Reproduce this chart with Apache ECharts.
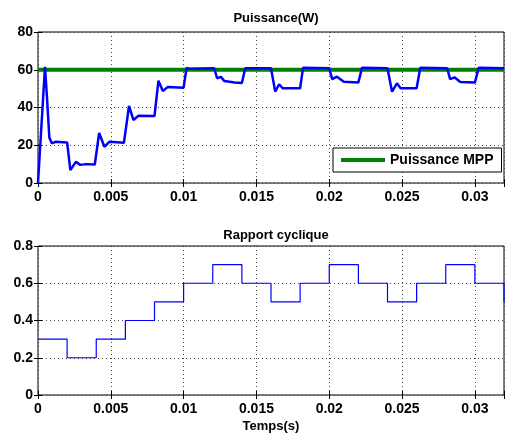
<!DOCTYPE html>
<html>
<head>
<meta charset="utf-8">
<script src="https://cdn.jsdelivr.net/npm/echarts@6/dist/echarts.min.js"></script>
<style>
  html, body { margin: 0; padding: 0; background: #fff; }
  #chart { width: 507px; height: 434px; }
</style>
</head>
<body>
<div id="chart"></div>
<script>
// puissance (W)
var powerTime = [0, 0.00048, 0.00062, 0.00078, 0.00095, 0.0012, 0.002, 0.00222, 0.0026, 0.0029, 0.0033, 0.0039,
  0.0042, 0.00456, 0.0049, 0.0059, 0.00625, 0.00655, 0.0069, 0.008, 0.00827, 0.00857, 0.0089, 0.01,
  0.0102, 0.0104, 0.0121, 0.0123, 0.01256, 0.0128, 0.0135, 0.014, 0.01423, 0.016, 0.01629, 0.01656,
  0.0168, 0.018, 0.0182, 0.02, 0.0202, 0.02053, 0.021, 0.022, 0.02225, 0.024, 0.02431, 0.02465,
  0.0249, 0.026, 0.02625, 0.0281, 0.0283, 0.0286, 0.029, 0.03, 0.03026, 0.032];
var powerValue = [0, 61.5, 45, 24, 21, 21.8, 21.5, 6.8, 11.2, 9.6, 10, 9.8,
  26.5, 19.2, 21.8, 21.3, 40.8, 33.4, 35.6, 35.5, 54.2, 48.7, 50.8, 50.5,
  61, 60.5, 60.8, 55.5, 56.2, 54, 53.2, 53, 60.8, 60.8, 48.4, 52.3,
  50.2, 50.2, 61, 60.8, 55, 56.3, 53.6, 53.3, 61, 60.8, 48.4, 52.8,
  50.2, 50.2, 61, 60.8, 55, 56, 53.5, 53.2, 61, 60.8];
var mppValue = 60;

// rapport cyclique
var dutyTime = [0, 0.002, 0.004, 0.006, 0.008, 0.01, 0.012, 0.014, 0.016, 0.018, 0.02, 0.022, 0.024, 0.026, 0.028, 0.03, 0.032];
var dutyValue = [0.3, 0.2, 0.3, 0.4, 0.5, 0.6, 0.7, 0.6, 0.5, 0.6, 0.7, 0.6, 0.5, 0.6, 0.7, 0.6, 0.5];

var xTicks = [0, 0.005, 0.01, 0.015, 0.02, 0.025, 0.03];

var font = 'Liberation Sans, Arial, sans-serif';

function zip(a, b) {
  return a.map(function (v, i) { return [v, b[i]]; });
}

function xLabel(v) {
  if (v > 0.0305) return '';
  return String(parseFloat(v.toFixed(4)));
}

function makeX(gridIndex, pos, withLabel) {
  return {
    type: 'value', gridIndex: gridIndex, position: pos,
    min: 0, max: 0.032, interval: 0.005,
    axisLine: { show: false },
    axisTick: { show: true, inside: true, length: 4, lineStyle: { color: '#000' } },
    axisLabel: { show: withLabel, color: '#000', fontFamily: font, fontWeight: 'bold', fontSize: 14, margin: 7, formatter: xLabel },
    splitLine: { show: withLabel, lineStyle: { color: '#444', type: [1, 3], width: 1 } }
  };
}

function makeY(gridIndex, pos, max, interval, withLabel) {
  return {
    type: 'value', gridIndex: gridIndex, position: pos,
    min: 0, max: max, interval: interval,
    axisLine: { show: false },
    axisTick: { show: true, inside: true, length: 4, lineStyle: { color: '#000' } },
    axisLabel: { show: withLabel, color: '#000', fontFamily: font, fontWeight: 'bold', fontSize: 14, margin: 5 },
    splitLine: { show: withLabel, lineStyle: { color: '#444', type: [1, 3], width: 1 } }
  };
}

var chart = echarts.init(document.getElementById('chart'));

var xBottom = makeX(1, 'bottom', true);
xBottom.name = 'Temps(s)';
xBottom.nameLocation = 'middle';
xBottom.nameGap = 25;
xBottom.nameTextStyle = { color: '#000', fontFamily: font, fontWeight: 'bold', fontSize: 13 };

var option = {
  animation: false,
  backgroundColor: '#fff',
  title: [
    { text: 'Puissance(W)', left: 271, top: 7, textAlign: 'center',
      textStyle: { color: '#000', fontFamily: font, fontWeight: 'bold', fontSize: 13 } },
    { text: 'Rapport cyclique', left: 271, top: 224, textAlign: 'center',
      textStyle: { color: '#000', fontFamily: font, fontWeight: 'bold', fontSize: 13 } }
  ],
  legend: {
    data: ['Puissance MPP'],
    left: 333, top: 148,
    padding: [5, 8, 5, 8],
    itemWidth: 44, itemHeight: 4,
    itemGap: 6,
    backgroundColor: '#fff',
    borderColor: '#000', borderWidth: 1, borderRadius: 0,
    icon: 'rect',
    textStyle: { color: '#000', fontFamily: font, fontWeight: 'bold', fontSize: 14 }
  },
  grid: [
    { left: 38, top: 32, width: 466, height: 151, show: true, borderColor: '#000', borderWidth: 1, backgroundColor: '#fff' },
    { left: 38, top: 246, width: 466, height: 151, show: true, borderColor: '#000', borderWidth: 1, backgroundColor: '#fff' }
  ],
  xAxis: [
    makeX(0, 'bottom', true),
    xBottom,
    makeX(0, 'top', false),
    makeX(1, 'top', false)
  ],
  yAxis: [
    makeY(0, 'left', 80, 20, true),
    makeY(1, 'left', 0.8, 0.2, true),
    makeY(0, 'right', 80, 20, false),
    makeY(1, 'right', 0.8, 0.2, false)
  ],
  series: [
    {
      name: 'Puissance MPP', type: 'line', xAxisIndex: 0, yAxisIndex: 0,
      data: [[0, mppValue], [0.032, mppValue]],
      showSymbol: false, symbol: 'none',
      itemStyle: { color: '#008000' },
      lineStyle: { color: '#008000', width: 4 },
      z: 2
    },
    {
      name: 'Puissance', type: 'line', xAxisIndex: 0, yAxisIndex: 0,
      data: zip(powerTime, powerValue),
      showSymbol: false, symbol: 'none',
      lineStyle: { color: '#0000ff', width: 2.5 },
      z: 3
    },
    {
      name: 'Rapport cyclique', type: 'line', xAxisIndex: 1, yAxisIndex: 1,
      data: zip(dutyTime, dutyValue),
      step: 'end',
      showSymbol: false, symbol: 'none',
      lineStyle: { color: '#0000ff', width: 1.2 }
    }
  ]
};

chart.setOption(option);
</script>
</body>
</html>
